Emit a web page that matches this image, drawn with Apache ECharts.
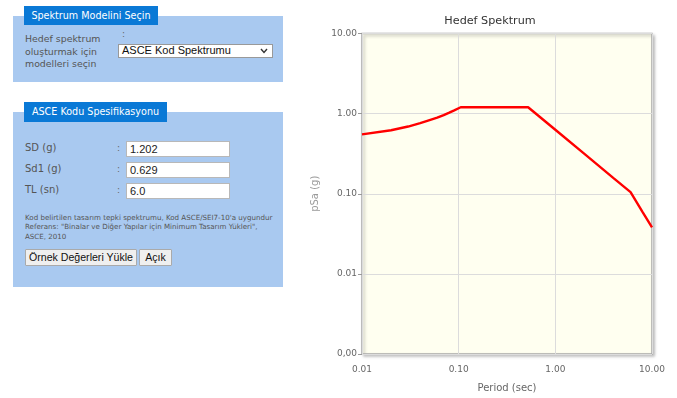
<!DOCTYPE html>
<html>
<head>
<meta charset="utf-8">
<script src="https://cdn.jsdelivr.net/npm/echarts@6/dist/echarts.min.js"></script>
<style>
  html, body { margin: 0; padding: 0; background: #fff; width: 677px; height: 398px; overflow: hidden; }
  body { position: relative; font-family: "DejaVu Sans", Verdana, sans-serif; }
  .panel { position: absolute; background: #a9c9f0; }
  .tab { position: absolute; background: #0a79d6; color: #fff; font-size: 9.6px; text-align: center; box-sizing: border-box; }
  .lbl { position: absolute; color: #555; font-size: 9.4px; white-space: nowrap; }
  .colon { position: absolute; color: #666; font-size: 9px; }
  .inp { position: absolute; background: #fff; border: 1px solid #b8b8b8; box-sizing: border-box; font-family: "Liberation Sans", Arial, sans-serif; font-size: 11px; color: #222; padding-left: 3px; line-height: 14px; }
  .sel { position: absolute; background: #fff; border: 1px solid #999; box-sizing: border-box; font-family: "Liberation Sans", Arial, sans-serif; font-size: 11px; color: #111; padding-left: 3px; line-height: 11px; }
  .note { position: absolute; color: #555; font-size: 7.1px; white-space: nowrap; line-height: 9.3px; }
  .btn { position: absolute; background: #efefef; border: 1px solid #aaa; box-sizing: border-box; font-family: "Liberation Sans", Arial, sans-serif; font-size: 10.6px; color: #111; text-align: center; line-height: 15px; border-radius: 1px; }
  #chart { position: absolute; left: 300px; top: 0; width: 377px; height: 398px; }
</style>
</head>
<body>
  <div class="panel" style="left:13px;top:16px;width:270px;height:66px;"></div>
  <div class="tab" style="left:24px;top:6px;width:134px;height:19px;line-height:19px;">Spektrum Modelini Seçin</div>
  <div class="lbl" style="left:25px;top:33px;line-height:12.5px;">Hedef spektrum<br>oluşturmak için<br>modelleri seçin</div>
  <div class="colon" style="left:122px;top:29px;">:</div>
  <div class="sel" style="left:118px;top:44px;width:155px;height:14px;">ASCE Kod Spektrumu
    <svg style="position:absolute;right:4px;top:3px;" width="8" height="6" viewBox="0 0 8 6"><polyline points="1,1 4,4.5 7,1" fill="none" stroke="#333" stroke-width="1.4"/></svg>
  </div>

  <div class="panel" style="left:13px;top:112px;width:270px;height:175px;"></div>
  <div class="tab" style="left:24px;top:102px;width:143px;height:20px;line-height:20px;">ASCE Kodu Spesifikasyonu</div>
  <div class="lbl" style="left:25px;top:142px;font-size:10px;">SD (g)</div>
  <div class="lbl" style="left:25px;top:163px;font-size:10px;">Sd1 (g)</div>
  <div class="lbl" style="left:25px;top:184px;font-size:10px;">TL (sn)</div>
  <div class="colon" style="left:117px;top:143px;">:</div>
  <div class="colon" style="left:117px;top:164px;">:</div>
  <div class="colon" style="left:117px;top:185px;">:</div>
  <div class="inp" style="left:126px;top:141px;width:104px;height:16px;">1.202</div>
  <div class="inp" style="left:126px;top:162px;width:104px;height:16px;">0.629</div>
  <div class="inp" style="left:126px;top:183px;width:104px;height:16px;">6.0</div>
  <div class="note" style="left:25px;top:213px;">Kod belirtilen tasarım tepki spektrumu, Kod ASCE/SEI7-10'a uygundur<br>Referans: "Binalar ve Diğer Yapılar için Minimum Tasarım Yükleri",<br>ASCE, 2010</div>
  <div class="btn" style="left:25px;top:249px;width:112px;height:17px;">Örnek Değerleri Yükle</div>
  <div class="btn" style="left:139px;top:249px;width:33px;height:17px;">Açık</div>

  <div id="chart"></div>
<script>
  // Data
  const periods = [0.01, 0.02, 0.03, 0.04, 0.05, 0.06, 0.07, 0.08, 0.09, 0.105, 0.523, 1.0, 2.0, 4.0, 6.0, 8.0, 10.0];
  const psa     = [0.55, 0.62, 0.69, 0.76, 0.83, 0.89, 0.96, 1.03, 1.10, 1.20, 1.20, 0.63, 0.315, 0.157, 0.105, 0.059, 0.038];
  const xTickLabels = { 0.01: '0.01', 0.1: '0.10', 1: '1.00', 10: '10.00' };
  const yTickLabels = { 0.001: '0,00', 0.01: '0.01', 0.1: '0.10', 1: '1.00', 10: '10.00' };

  function lookup(map, v) {
    for (const k in map) { if (Math.abs(Math.log10(v) - Math.log10(+k)) < 1e-6) return map[k]; }
    return '';
  }

  const chart = echarts.init(document.getElementById('chart'), null, { renderer: 'canvas' });
  const series = periods.map((t, i) => [t, psa[i]]);
  chart.setOption({
    animation: false,
    title: {
      text: 'Hedef Spektrum', left: 185, top: 11, textAlign: 'center',
      textStyle: { fontFamily: 'DejaVu Sans', fontSize: 11.2, fontWeight: 'normal', color: '#333' }
    },
    grid: {
      left: 62, right: 25, top: 33.5, bottom: 43.5,
      show: true, backgroundColor: '#fffff0', borderColor: '#a8a8a8', borderWidth: 1.5,
      shadowBlur: 3, shadowColor: 'rgba(0,0,0,0.25)', shadowOffsetX: 2, shadowOffsetY: 2
    },
    xAxis: {
      type: 'log', logBase: 10, min: 0.01, max: 10,
      name: 'Period (sec)', nameLocation: 'middle', nameGap: 29,
      nameTextStyle: { fontFamily: 'DejaVu Sans', fontSize: 10, color: '#666' },
      axisLine: { show: false },
      axisTick: { show: false },
      minorTick: { show: false },
      axisLabel: { fontFamily: 'DejaVu Sans', fontSize: 9, color: '#666', margin: 11,
        formatter: v => lookup(xTickLabels, v) },
      splitLine: { show: true, lineStyle: { color: '#dcdcdc', width: 1 } }
    },
    yAxis: {
      type: 'log', logBase: 10, min: 0.001, max: 10,
      name: 'pSa (g)', nameLocation: 'middle', nameGap: 40,
      nameTextStyle: { fontFamily: 'DejaVu Sans', fontSize: 10, color: '#999' },
      axisLine: { show: false },
      axisTick: { show: true, length: 4, lineStyle: { color: '#999' } },
      axisLabel: { fontFamily: 'DejaVu Sans', fontSize: 9, color: '#666', margin: 5,
        formatter: v => lookup(yTickLabels, v) },
      splitLine: { show: true, lineStyle: { color: '#dcdcdc', width: 1 } }
    },
    series: [{
      type: 'line', data: series, showSymbol: false, smooth: false,
      lineStyle: { color: '#ff0000', width: 2.4 }, clip: true
    }]
  });
</script>
</body>
</html>
